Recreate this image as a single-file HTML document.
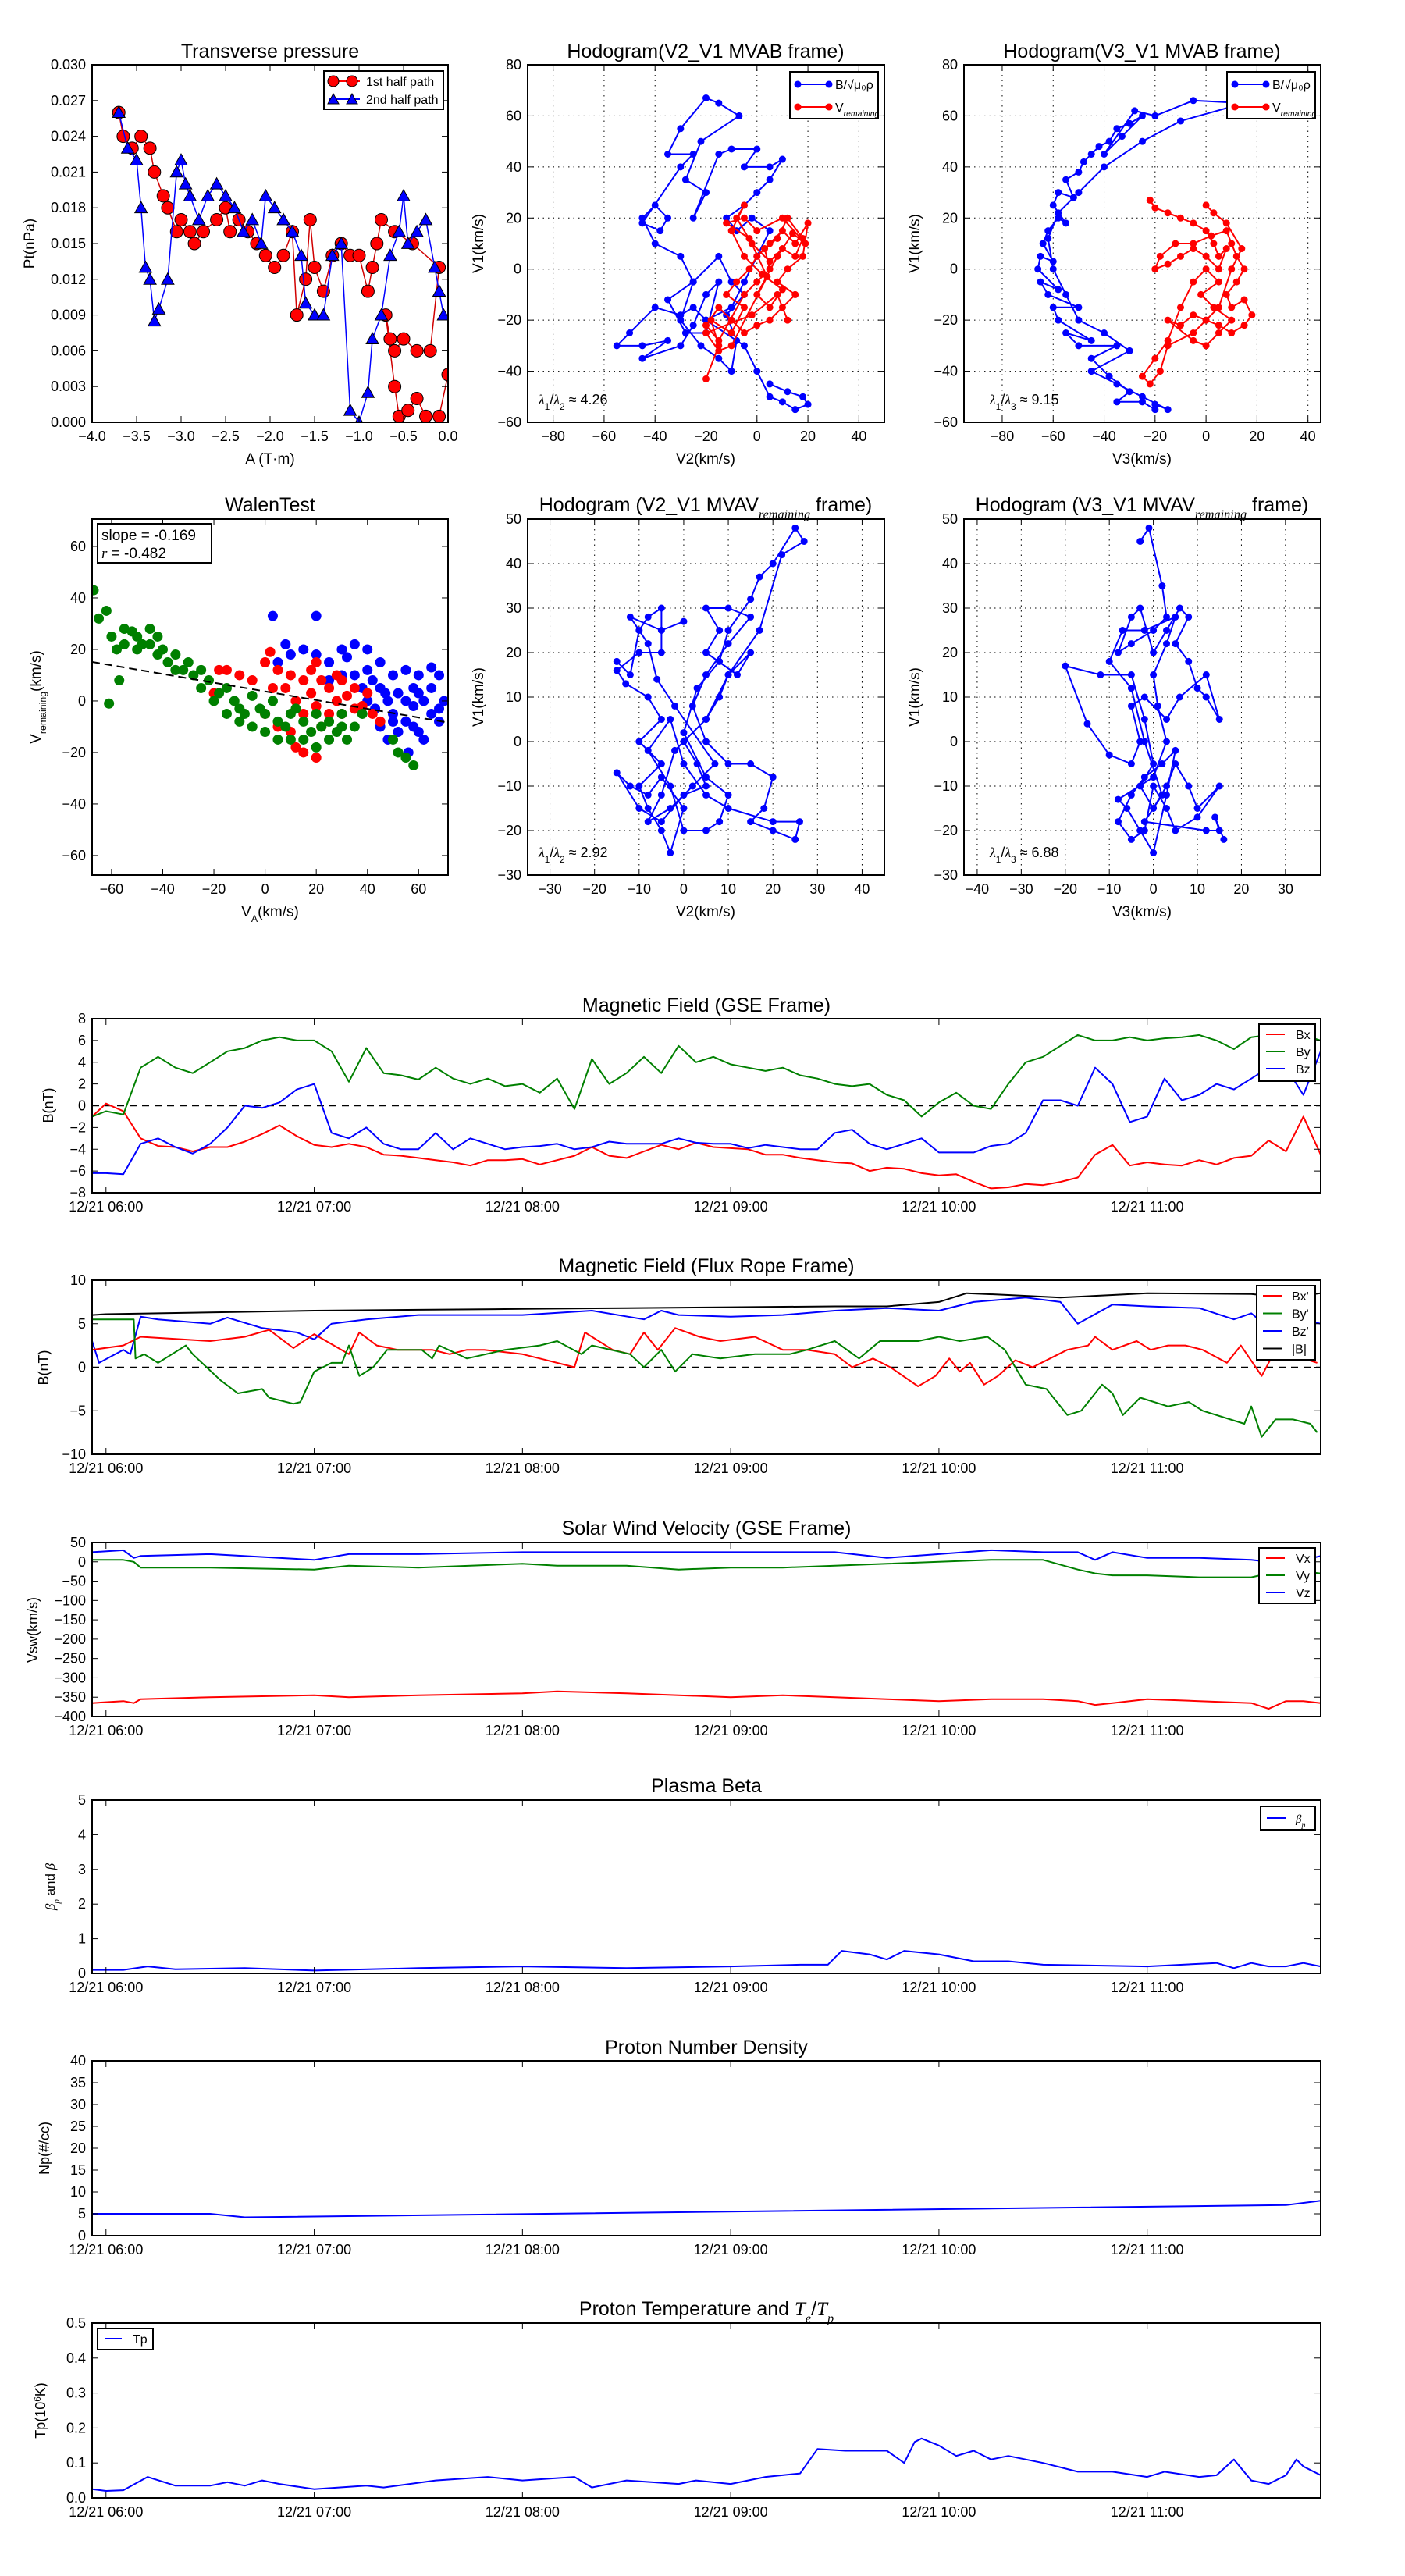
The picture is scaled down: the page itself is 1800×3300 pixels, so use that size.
<!DOCTYPE html>
<html><head><meta charset="utf-8"><title>Flux rope analysis</title>
<style>
html,body{margin:0;padding:0;background:#fff;}
svg{display:block;font-family:"Liberation Sans",sans-serif;}
</style></head>
<body>
<svg id="fig" xmlns="http://www.w3.org/2000/svg" width="1800" height="3300" viewBox="0 0 1800 3300">
<rect x="0" y="0" width="1800" height="3300" fill="#fff"/>
<defs id="defs"></defs>
</svg>
<script>
// ---------- DATA ----------
// Transverse pressure
const tp1A=[-3.7,-3.65,-3.55,-3.45,-3.35,-3.3,-3.2,-3.15,-3.05,-3.0,-2.9,-2.85,-2.75,-2.6,-2.5,-2.45,-2.35,-2.25,-2.15,-2.05,-1.95,-1.85,-1.75,-1.7,-1.6,-1.55,-1.5,-1.4,-1.3,-1.2,-1.1,-1.0,-0.9,-0.85,-0.8,-0.75,-0.6,-0.4,-0.1,-0.2,-0.35,-0.5,-0.6,-0.65,-0.7,-0.6,-0.55,-0.45,-0.35,-0.25,-0.1,0.0];
const tp1P=[0.026,0.024,0.023,0.024,0.023,0.021,0.019,0.018,0.016,0.017,0.016,0.015,0.016,0.017,0.018,0.016,0.017,0.016,0.015,0.014,0.013,0.014,0.016,0.009,0.012,0.017,0.013,0.011,0.014,0.015,0.014,0.014,0.011,0.013,0.015,0.017,0.016,0.015,0.013,0.006,0.006,0.007,0.006,0.007,0.009,0.003,0.0005,0.001,0.002,0.0005,0.0005,0.004];
const tp2A=[-3.7,-3.6,-3.5,-3.45,-3.4,-3.35,-3.3,-3.25,-3.15,-3.05,-3.0,-2.95,-2.9,-2.8,-2.7,-2.6,-2.5,-2.4,-2.3,-2.2,-2.1,-2.05,-1.95,-1.85,-1.75,-1.65,-1.6,-1.5,-1.4,-1.3,-1.2,-1.1,-1.0,-0.9,-0.85,-0.75,-0.65,-0.55,-0.5,-0.45,-0.35,-0.25,-0.15,-0.1,-0.05];
const tp2P=[0.026,0.023,0.022,0.018,0.013,0.012,0.0085,0.0095,0.012,0.021,0.022,0.020,0.019,0.017,0.019,0.020,0.019,0.018,0.016,0.017,0.015,0.019,0.018,0.017,0.016,0.014,0.010,0.009,0.009,0.014,0.015,0.001,0.0,0.0025,0.007,0.009,0.014,0.016,0.019,0.015,0.016,0.017,0.013,0.011,0.009];
// Hodogram MVAB V2-V1
const h1BxV2=[-20,-25,-30,-40,-50,-55,-45,-35,-45,-30,-25,-20,-15,-20,-28,-35,-25,-30,-22,-15,-10,-8,-12,-5,-10,-15,-25,-30,-40,-45,-40,-35,-38,-45,-30,-25,-35,-30,-20,-15,-7,-22,-28,-20,-25,-15,-10,0,-5,5,10,5,0,-5,-12,-8,-2,5,0,-5,-10,-20,-5,0,5,10,15,20,18,12,5];
const h1ByV1=[-20,-15,-18,-15,-25,-30,-30,-28,-35,-30,-22,-10,-5,-25,-25,-12,-5,-20,-30,-35,-40,-28,-18,-10,-5,5,-5,5,10,20,25,20,15,18,40,45,45,55,67,65,60,50,35,30,20,45,47,47,40,40,43,35,30,25,20,15,20,15,5,-5,-15,-20,-30,-40,-50,-52,-55,-53,-50,-48,-45];
const h1VxV2=[-20,-15,-18,-10,-5,-12,-8,-3,0,5,10,15,20,18,12,8,15,10,5,0,-5,-10,-15,-20,-15,-5,0,5,3,8,12,18,15,10,5,-2,-8,-5,-10,-5,2,10,5,0,8,14,19,10,0,-5,-12,-3,4,-10,-15,-20,-2,8,12];
const h1VyV1=[-43,-30,-20,-25,-15,-10,-5,0,5,10,15,10,18,5,0,-5,-10,-15,-20,-22,-25,-20,-15,-22,-28,-10,-5,0,8,12,20,12,5,8,3,10,20,25,15,5,-2,-8,-15,-10,5,14,10,20,15,20,18,12,-3,-30,-32,-25,-18,-10,-20];
// Hodogram MVAB V3-V1
const h2BxV3=[-20,-25,-35,-30,-38,-45,-35,-50,-55,-45,-58,-60,-50,-62,-65,-58,-66,-65,-60,-64,-62,-58,-55,-60,-58,-52,-55,-50,-48,-45,-42,-38,-35,-30,-25,-33,-40,-28,-20,-5,15,-10,-25,-40,-50,-58,-62,-60,-55,-50,-40,-30,-45,-35,-25,-15,-20];
const h2ByV1=[-55,-52,-52,-48,-42,-35,-30,-30,-25,-28,-20,-15,-15,-10,-5,-8,0,5,3,10,15,20,18,25,30,28,35,38,42,45,48,50,55,57,60,52,45,62,60,66,65,58,50,40,30,22,12,0,-10,-20,-25,-32,-40,-45,-50,-55,-53];
const h2VxV3=[-22,-20,-15,-10,-5,0,3,5,8,5,0,-5,-10,-15,-20,-18,-12,-5,2,8,10,12,15,12,8,10,15,18,15,10,5,0,-5,-10,-15,-5,0,5,10,3,-2,5,0,-5,-10,-15,-20,-25,-22,-18,-15,-5,5,10,14,8,3,0];
const h2VyV1=[27,24,22,20,18,15,10,5,8,0,5,8,5,2,0,5,10,10,13,15,10,5,0,-5,-10,-15,-12,-18,-22,-25,-22,-20,-18,-22,-20,-28,-30,-25,-20,-15,-10,-5,0,-5,-15,-28,-35,-42,-45,-40,-30,-25,-15,0,8,18,22,25];
// Hodogram MVAV V2-V1
const h3V2=[-15,-12,-10,-8,-5,-5,-10,-15,-13,-8,-5,-10,-5,-10,-8,-5,-3,0,-5,-8,-12,-15,-10,-5,0,5,3,0,5,8,10,15,12,5,8,5,10,15,10,5,2,5,10,15,20,18,15,20,25,26,20,10,5,0,-3,-8,-3,0,5,8,10,5,0,3,8,10,15,17,20,25,27,22,17,10,5,-2,-5,-8,-3,2,7,-2,-6,-8,-12,-5,0];
const h3V1=[18,15,25,28,30,20,20,16,13,10,5,0,-5,-10,-15,-20,-25,-15,-8,-12,-10,-7,-15,-18,-12,-10,-5,0,5,10,15,20,15,20,25,30,30,28,22,15,8,0,-5,-5,-8,-15,-18,-20,-22,-18,-18,-15,-12,-5,5,-2,-10,-20,-20,-18,-12,-8,2,12,18,25,32,37,40,48,45,42,25,15,5,-2,-12,-18,-15,-10,-5,8,14,22,28,25,27];
// Hodogram MVAV V3-V1
const h4V3=[-3,-1,2,3,0,-5,-8,-5,-3,0,3,6,8,5,8,10,12,15,12,6,3,-2,-5,-3,-5,-10,-15,-20,-12,-5,-2,0,-3,0,3,5,8,10,15,10,5,3,0,-2,-5,-8,-5,-2,2,5,3,0,-3,-6,-8,0,3,1,0,3,5,-2,-7,-10,-5,-2,2,-2,12,15,14,16];
const h4V1=[45,48,35,28,25,22,20,28,30,20,25,30,28,22,18,12,10,5,15,10,5,10,8,0,-5,-3,4,17,15,15,5,-5,-10,-15,-10,-5,-10,-15,-10,-17,-20,-15,-10,-20,-22,-18,-12,-8,-5,-2,-12,-25,-20,-15,-13,-8,0,8,15,22,28,25,25,18,12,0,-12,-18,-20,-20,-17,-22];
// Walen test
const wgVA=[-67,-65,-62,-60,-58,-55,-55,-52,-50,-50,-48,-45,-45,-42,-42,-40,-38,-35,-35,-32,-30,-28,-25,-25,-22,-20,-18,-15,-15,-12,-10,-10,-8,-5,-5,-2,0,0,3,5,5,8,10,10,12,15,15,18,20,20,22,25,25,28,30,30,32,35,38,50,52,55,58,-61,-57];
const wgV=[43,32,35,25,20,28,22,27,25,20,22,28,22,25,18,20,15,18,12,12,15,10,12,5,8,0,3,-5,5,0,-3,-8,-5,-10,2,-3,-5,-12,0,-8,-15,-10,-5,-15,-3,-8,-15,-12,-5,-18,-10,-8,-15,-12,-5,-10,-15,-10,-5,-15,-20,-22,-25,-1,8];
const wrVA=[0,5,8,10,12,15,15,18,18,20,20,22,22,25,25,28,28,30,30,32,35,35,38,40,42,45,0,3,5,10,12,15,20,-10,-15,-5,-20,2,-18];
const wrV=[15,12,5,10,0,8,-5,12,3,15,-2,8,-10,5,-5,10,0,-5,8,2,-3,5,-2,3,-5,-8,-5,5,-10,-12,-18,-20,-22,10,12,8,3,19,12];
const wbVA=[3,20,8,5,10,15,20,25,30,32,35,40,40,42,45,45,48,50,50,52,55,55,58,58,60,60,62,62,65,65,68,68,70,45,48,52,56,40,43,38,35,30,25,55,60,65,68,58,50,47];
const wbV=[33,33,22,15,18,20,18,15,20,17,22,20,12,8,15,5,0,10,-5,3,12,-8,5,-2,10,-12,0,-15,5,-5,10,-3,0,-10,-15,-12,-20,0,-3,5,10,10,8,0,3,13,-8,-10,-8,3];
const walenSlope=-0.169, walenIntercept=3.7, walenR=-0.482;
// Time series (minutes after 06:00)
const gseT=[-4,0,5,10,15,20,25,30,35,40,45,50,55,60,65,70,75,80,85,90,95,100,105,110,115,120,125,130,135,140,145,150,155,160,165,170,175,180,185,190,195,200,205,210,215,220,225,230,235,240,245,250,255,260,265,270,275,280,285,290,295,300,305,310,315,320,325,330,335,340,345,350];
const gseBx=[-1,0.2,-0.5,-3.0,-3.7,-3.8,-4.2,-3.8,-3.8,-3.3,-2.6,-1.8,-2.8,-3.6,-3.8,-3.5,-3.8,-4.5,-4.6,-4.8,-5.0,-5.2,-5.5,-5.0,-5.0,-4.9,-5.4,-5.0,-4.6,-3.8,-4.6,-4.8,-4.2,-3.6,-4.0,-3.4,-3.8,-3.9,-4.0,-4.5,-4.5,-4.8,-5.0,-5.2,-5.3,-6.0,-5.7,-5.8,-6.2,-6.4,-6.3,-7.0,-7.6,-7.5,-7.2,-7.3,-7.0,-6.6,-4.5,-3.6,-5.5,-5.2,-5.4,-5.5,-5.0,-5.4,-4.8,-4.6,-3.2,-4.2,-1.0,-4.5];
const gseBy=[-1,-0.5,-0.8,3.5,4.5,3.5,3.0,4.0,5.0,5.3,6.0,6.3,6.0,6.0,5.0,2.2,5.3,3.0,2.8,2.4,3.5,2.5,2.0,2.5,1.8,2.0,1.2,2.5,-0.3,4.3,2.0,3.0,4.5,3.0,5.5,4.0,4.5,3.8,3.5,3.2,3.5,2.8,2.5,2.0,1.8,2.0,1.0,0.5,-1.0,0.3,1.2,0.0,-0.3,2.0,4.0,4.5,5.5,6.5,6.0,6.0,6.3,6.0,6.2,6.3,6.5,6.0,5.2,6.3,6.5,5.8,6.5,6.0];
const gseBz=[-6.2,-6.2,-6.3,-3.5,-3.0,-3.8,-4.4,-3.5,-2.0,0.0,-0.2,0.3,1.5,2.0,-2.5,-3.0,-2.0,-3.5,-4.0,-4.0,-2.5,-4.0,-3.0,-3.5,-4.0,-3.8,-3.7,-3.5,-4.0,-3.8,-3.3,-3.5,-3.5,-3.5,-3.0,-3.4,-3.5,-3.5,-3.9,-3.6,-3.8,-4.0,-4.0,-2.5,-2.2,-3.5,-4.0,-3.5,-3.0,-4.3,-4.3,-4.3,-3.7,-3.5,-2.5,0.5,0.5,0.0,3.5,2.0,-1.5,-1.0,2.5,0.5,1.0,2.0,1.5,2.5,3.5,3.5,1.0,5.0];
// Flux rope frame
const frBmagT=[-4,0,30,60,90,120,150,180,210,225,240,248,260,275,290,300,330,340,350];
const frBmag=[6.0,6.1,6.3,6.5,6.6,6.7,6.8,6.9,7.0,7.0,7.5,8.5,8.3,8.0,8.3,8.5,8.4,8.0,8.5];
const frBzT=[-4,-2,5,7,10,15,30,35,45,55,60,65,75,90,120,140,155,160,165,180,195,210,225,240,250,265,275,280,290,300,315,325,330,335,340,350];
const frBz=[3,0.5,2,1.5,5.8,5.5,5.0,5.7,4.5,4.0,3.2,5.0,5.5,6.0,6.0,6.5,5.5,6.5,6.0,5.8,6.0,6.5,6.8,6.5,7.5,8.0,7.5,5.0,7.2,7.0,6.8,5.5,6.2,4.5,6.0,5.0];
const frBxT=[-4,5,10,30,40,47,54,60,70,73,78,84,91,94,99,104,109,120,125,135,138,146,151,155,159,164,171,177,187,195,202,210,215,221,226,234,239,243,246,249,253,257,262,267,272,277,283,285,290,297,301,306,311,316,323,327,333,337,349];
const frBx=[2,2.5,3.5,3,3.5,4.3,2.2,3.8,1.5,4.0,2.5,2,2,2,1.5,2,2,1.5,1,0,4,2,1.5,4,2,4.5,3.5,3,3.5,2,2,1.5,0,1,0,-2.2,-1,1,-0.5,0.5,-2,-1,0.8,0,1,2,2.5,3.5,2,3,2,2.5,2.5,2,0.5,2.5,-1,2,0.5];
const frByT=[-4,8,8.5,11,15,19,23,25,29,33,38,45,47,54,56,60,65,68,70,73,77,81,91,94,96,104,115,125,130,137,140,151,155,160,164,169,177,187,197,202,210,217,223,234,240,246,254,259,262,265,271,277,281,287,290,293,298,306,312,316,328,330,333,337,342,347,349];
const frBy=[5.5,5.5,1,1.5,0.5,1.5,2.5,1.5,0,-1.5,-3,-2.5,-3.5,-4.2,-4,-0.5,0.5,0.5,2.5,-1,0,2,2,1,2.5,1,2,2.5,3,1.5,2.5,1.5,0,2,-0.5,1.5,1,1.5,1.5,2,3,1,3,3,3.5,3,3.5,2,0,-2,-2.5,-5.5,-5,-2,-3,-5.5,-3.5,-4.5,-4,-5,-6.5,-4.5,-8,-6,-6,-6.5,-7.5];
// Solar wind velocity
const vT=[-4,5,8,10,30,60,70,90,120,130,150,165,180,195,210,225,240,255,270,280,285,290,300,315,330,335,340,345,350];
const vx=[-365,-360,-365,-355,-350,-345,-350,-345,-340,-335,-340,-345,-350,-345,-350,-355,-360,-355,-355,-360,-370,-365,-355,-360,-365,-380,-360,-360,-365];
const vy=[5,5,0,-15,-15,-20,-10,-15,-5,-10,-10,-20,-15,-15,-10,-5,0,5,5,-20,-30,-35,-35,-40,-40,-30,-25,-25,-30];
const vz=[25,30,10,15,20,5,20,20,25,25,25,25,25,25,25,10,20,30,25,25,5,25,10,10,5,0,-10,5,15];
// Plasma beta
const betaT=[-4,5,12,20,40,60,90,120,150,180,200,208,212,220,225,230,235,240,250,260,270,300,320,325,330,335,340,345,350];
const beta=[0.1,0.1,0.2,0.12,0.15,0.08,0.15,0.2,0.15,0.2,0.25,0.25,0.65,0.55,0.4,0.65,0.6,0.55,0.35,0.35,0.25,0.2,0.3,0.15,0.3,0.2,0.2,0.3,0.2];
// Density
const npT=[-4,30,40,340,350];
const np=[5,5,4.2,7.0,8.0];
// Proton temperature
const tpT=[-4,0,5,12,20,30,35,40,45,50,60,75,80,95,110,120,135,140,150,165,170,180,190,200,205,213,225,230,233,235,240,245,250,255,260,270,280,290,300,305,315,320,325,330,335,340,343,345,350];
const tpv=[0.025,0.02,0.022,0.06,0.035,0.035,0.045,0.035,0.05,0.04,0.025,0.035,0.03,0.05,0.06,0.05,0.06,0.03,0.05,0.04,0.05,0.04,0.06,0.07,0.14,0.135,0.135,0.10,0.16,0.17,0.15,0.12,0.135,0.11,0.12,0.1,0.075,0.075,0.06,0.075,0.06,0.065,0.11,0.05,0.04,0.065,0.11,0.09,0.065];
const timeTicks=[0,60,120,180,240,300];
const timeTickLabels=["12/21 06:00","12/21 07:00","12/21 08:00","12/21 09:00","12/21 10:00","12/21 11:00"];

// ---------- DRAWING ----------
const NS='http://www.w3.org/2000/svg';
const svg=document.getElementById('fig');
const defs=document.getElementById('defs');
let clipId=0;
function mk(tag,attrs,parent){const e=document.createElementNS(NS,tag);for(const k in attrs)e.setAttribute(k,attrs[k]);(parent||svg).appendChild(e);return e;}
function lin(d0,d1,r0,r1){return v=>r0+(v-d0)/(d1-d0)*(r1-r0);}
function fmtNum(v,dec){const s=Math.abs(v).toFixed(dec);return (v<0?'\u2212':'')+s;}

function axes(name,x0,y0,x1,y1,xd,yd,xt,yt,xlab,ylab,grid){
  const g=mk('g',{});
  
  
  const sx=lin(xd[0],xd[1],x0,x1), sy=lin(yd[0],yd[1],y1,y0);
  const cp=mk('clipPath',{id:'c'+(++clipId)},defs);
  mk('rect',{x:x0,y:y0,width:x1-x0,height:y1-y0},cp);
  if(grid){
    xt.forEach(v=>{const gl=mk('line',{x1:sx(v),x2:sx(v),y1:y0,y2:y1,stroke:'#000','stroke-width':1,'stroke-dasharray':'1.5,5'},g);
      
      });
    yt.forEach(v=>{const gl=mk('line',{x1:x0,x2:x1,y1:sy(v),y2:sy(v),stroke:'#000','stroke-width':1,'stroke-dasharray':'1.5,5'},g);
      
      });
  }
  const plot=mk('g',{'clip-path':'url(#c'+clipId+')'},g);
  
  
  const tg=mk('g',{},g);
  
  
  xt.forEach((v,i)=>{
    const X=sx(v);
    mk('line',{x1:X,x2:X,y1:y1,y2:y1-8,stroke:'#000','stroke-width':1},tg);
    mk('line',{x1:X,x2:X,y1:y0,y2:y0+8,stroke:'#000','stroke-width':1},tg);
    const t=mk('text',{x:X,y:y1+24,'text-anchor':'middle','font-size':18},tg);
    t.textContent=xlab(v,i);
    
    
  });
  yt.forEach((v,i)=>{
    const Y=sy(v);
    mk('line',{x1:x0,x2:x0+8,y1:Y,y2:Y,stroke:'#000','stroke-width':1},tg);
    mk('line',{x1:x1,x2:x1-8,y1:Y,y2:Y,stroke:'#000','stroke-width':1},tg);
    const t=mk('text',{x:x0-8,y:Y+6,'text-anchor':'end','font-size':18},tg);
    t.textContent=ylab(v,i);
    
    
  });
  const fr=mk('rect',{x:x0,y:y0,width:x1-x0,height:y1-y0,fill:'none',stroke:'#000','stroke-width':2},g);
  
  
  return {sx,sy,plot,g,x0,y0,x1,y1};
}
function line(ax,xs,ys,color,name,w){
  const d=xs.map((x,i)=>(i?'L':'M')+ax.sx(x).toFixed(1)+','+ax.sy(ys[i]).toFixed(1)).join('');
  const p=mk('path',{d,fill:'none',stroke:color,'stroke-width':w||2,'stroke-linejoin':'round'},ax.plot);
  
  
  return p;
}
function dots(ax,xs,ys,color,r,name,shape){
  const g=mk('g',{},ax.plot);
  
  
  xs.forEach((x,i)=>{
    const X=ax.sx(x),Y=ax.sy(ys[i]);
    if(shape==='tri'){
      mk('polygon',{points:`${X},${Y-r} ${X-r},${Y+r*0.8} ${X+r},${Y+r*0.8}`,fill:color,stroke:'#000','stroke-width':1},g);
    } else {
      mk('circle',{cx:X,cy:Y,r:r,fill:color,stroke:shape==='edge'?'#000':'none','stroke-width':1},g);
    }
  });
}
function text(x,y,str,size,anchor,name,rot){
  const t=mk('text',{x,y,'font-size':size,'text-anchor':anchor||'middle'});
  if(rot) t.setAttribute('transform',`rotate(-90 ${x} ${y})`);
  t.textContent=str;
  
  
  return t;
}
function rich(x,y,parts,size,anchor,name,rot){
  const t=mk('text',{x,y,'font-size':size,'text-anchor':anchor||'middle'});
  if(rot) t.setAttribute('transform',`rotate(-90 ${x} ${y})`);
  parts.forEach(p=>{
    const s=mk('tspan',{},t);
    if(p.sub){s.setAttribute('baseline-shift','sub');s.setAttribute('font-size',size*0.65);}
    if(p.sup){s.setAttribute('baseline-shift','super');s.setAttribute('font-size',size*0.65);}
    if(p.it){s.setAttribute('font-style','italic');s.setAttribute('font-family','Liberation Serif, serif');}
    s.textContent=p.t;
  });
  
  
  return t;
}
function legendBox(x,y,w,h,name){
  const r=mk('rect',{x,y,width:w,height:h,fill:'#fff',stroke:'#000','stroke-width':2});
  
  
}
function legendEntry(x,y,color,marker,parts,size,name){
  const g=mk('g',{});
  
  
  mk('line',{x1:x,x2:x+40,y1:y,y2:y,stroke:color,'stroke-width':2},g);
  if(marker==='dot'){mk('circle',{cx:x,cy:y,r:4.5,fill:color},g);mk('circle',{cx:x+40,cy:y,r:4.5,fill:color},g);}
  if(marker==='big'){mk('circle',{cx:x+6,cy:y,r:7,fill:color,stroke:'#000'},g);mk('circle',{cx:x+30,cy:y,r:7,fill:color,stroke:'#000'},g);}
  if(marker==='tri'){[x+6,x+30].forEach(c=>mk('polygon',{points:`${c},${y-7} ${c-7},${y+6} ${c+7},${y+6}`,fill:color,stroke:'#000'},g));}
  const t=mk('text',{x:x+48,y:y+6,'font-size':size},g);
  parts.forEach(p=>{const s=mk('tspan',{},t);if(p.sub){s.setAttribute('baseline-shift','sub');s.setAttribute('font-size',size*0.65);s.setAttribute('font-style','italic');}s.textContent=p.t;});
}
const rng=(a,b,s)=>{const o=[];for(let v=a;v<=b+1e-9;v+=s)o.push(+v.toFixed(6));return o;};

// ---- Row 1 panel 1: transverse pressure
{
  const ax=axes('transverse-pressure-chart',118,83,574,541,[-4,0],[0,0.030],rng(-4,0,0.5),rng(0,0.030,0.003),v=>fmtNum(v,1),v=>v.toFixed(3),false);
  line(ax,tp1A,tp1P,'#d00000','first-half-path-line',1.5);
  dots(ax,tp1A,tp1P,'#ff0000',8,'first-half-path-markers','edge');
  line(ax,tp2A,tp2P,'#0000ff','second-half-path-line',1.5);
  dots(ax,tp2A,tp2P,'#0000ff',8,'second-half-path-markers','tri');
  text(346,74,'Transverse pressure',25,'middle','transverse-pressure-title');
  text(346,594,'A (T\u00b7m)',19,'middle','x-axis-title');
  text(44,312,'Pt(nPa)',19,'middle','y-axis-title',true);
  legendBox(415,91,153,49,'transverse-legend');
  legendEntry(421,104,'#ff0000','big',[{t:'1st half path'}],16,'legend-entry-1st-half');
  legendEntry(421,127,'#0000ff','tri',[{t:'2nd half path'}],16,'legend-entry-2nd-half');
}
// ---- Row 1 panel 2: hodogram MVAB V2-V1
function hodoLegend(x,pref){
  legendBox(x,92,113,60,pref+'-legend');
  legendEntry(x+10,108,'#0000ff','dot',[{t:'B/\u221a\u03bc\u2080\u03c1'}],16,'legend-entry-b');
  legendEntry(x+10,137,'#ff0000','dot',[{t:'V'},{t:'remaining',sub:true}],16,'legend-entry-v');
}
{
  const ax=axes('hodogram-mvab-v2-v1',676,83,1133,541,[-90,50],[-60,80],rng(-80,40,20),rng(-60,80,20),v=>fmtNum(v,0),v=>fmtNum(v,0),true);
  line(ax,h1BxV2,h1ByV1,'#0000ff','b-trajectory-line',2);
  dots(ax,h1BxV2,h1ByV1,'#0000ff',4.5,'b-trajectory-points');
  line(ax,h1VxV2,h1VyV1,'#ff0000','v-trajectory-line',2);
  dots(ax,h1VxV2,h1VyV1,'#ff0000',4.5,'v-trajectory-points');
  text(904,74,'Hodogram(V2_V1 MVAB frame)',25,'middle','hodogram-mvab-v2-title');
  text(904,594,'V2(km/s)',19,'middle','x-axis-title');
  text(619,312,'V1(km/s)',19,'middle','y-axis-title',true);
  hodoLegend(1012,'hodogram-mvab-v2');
  rich(690,518,[{t:'\u03bb',it:1},{t:'1',sub:1},{t:'/'},{t:'\u03bb',it:1},{t:'2',sub:1},{t:' \u2248 4.26'}],18,'start','eigen-ratio-label');
}
// ---- Row 1 panel 3: hodogram MVAB V3-V1
{
  const ax=axes('hodogram-mvab-v3-v1',1235,83,1692,541,[-95,45],[-60,80],rng(-80,40,20),rng(-60,80,20),v=>fmtNum(v,0),v=>fmtNum(v,0),true);
  line(ax,h2BxV3,h2ByV1,'#0000ff','b-trajectory-line',2);
  dots(ax,h2BxV3,h2ByV1,'#0000ff',4.5,'b-trajectory-points');
  line(ax,h2VxV3,h2VyV1,'#ff0000','v-trajectory-line',2);
  dots(ax,h2VxV3,h2VyV1,'#ff0000',4.5,'v-trajectory-points');
  text(1463,74,'Hodogram(V3_V1 MVAB frame)',25,'middle','hodogram-mvab-v3-title');
  text(1463,594,'V3(km/s)',19,'middle','x-axis-title');
  text(1178,312,'V1(km/s)',19,'middle','y-axis-title',true);
  hodoLegend(1572,'hodogram-mvab-v3');
  rich(1268,518,[{t:'\u03bb',it:1},{t:'1',sub:1},{t:'/'},{t:'\u03bb',it:1},{t:'3',sub:1},{t:' \u2248 9.15'}],18,'start','eigen-ratio-label');
}
// ---- Row 2 panel 1: Walen test
{
  const ax=axes('walen-test-chart',118,665,574,1121,[-67.6,71.5],[-67.6,70.6],rng(-60,60,20),rng(-60,60,20),v=>fmtNum(v,0),v=>fmtNum(v,0),false);
  dots(ax,wbVA,wbV,'#0000ff',6.5,'walen-blue-points');
  dots(ax,wrVA,wrV,'#ff0000',6.5,'walen-red-points');
  dots(ax,wgVA,wgV,'#008000',6.5,'walen-green-points');
  const fx=[-67.6,71.5];
  line(ax,fx,fx.map(x=>walenSlope*x+walenIntercept),'#000','walen-fit-line',2).setAttribute('stroke-dasharray','10,6');
  text(346,655,'WalenTest',25,'middle','walen-test-title');
  rich(346,1174,[{t:'V'},{t:'A',sub:1},{t:'(km/s)'}],19,'middle','x-axis-title');
  rich(52,893,[{t:'V'},{t:'remaining',sub:1},{t:'(km/s)'}],19,'middle','y-axis-title',true);
  legendBox(125,671,146,50,'walen-stats-box');
  text(130,692,'slope = '+walenSlope.toFixed(3).replace('-','-'),19,'start','slope-label');
  rich(130,715,[{t:'r',it:1},{t:' = '+walenR.toFixed(3)}],19,'start','r-label');
}
// ---- Row 2 panel 2
{
  const ax=axes('hodogram-mvav-v2-v1',676,665,1133,1121,[-35,45],[-30,50],rng(-30,40,10),rng(-30,50,10),v=>fmtNum(v,0),v=>fmtNum(v,0),true);
  line(ax,h3V2,h3V1,'#0000ff','v-trajectory-line',2);
  dots(ax,h3V2,h3V1,'#0000ff',4.5,'v-trajectory-points');
  rich(904,655,[{t:'Hodogram (V2_V1 MVAV'},{t:'remaining',sub:1,it:1},{t:' frame)'}],25,'middle','hodogram-mvav-v2-title');
  text(904,1174,'V2(km/s)',19,'middle','x-axis-title');
  text(619,893,'V1(km/s)',19,'middle','y-axis-title',true);
  rich(690,1098,[{t:'\u03bb',it:1},{t:'1',sub:1},{t:'/'},{t:'\u03bb',it:1},{t:'2',sub:1},{t:' \u2248 2.92'}],18,'start','eigen-ratio-label');
}
// ---- Row 2 panel 3
{
  const ax=axes('hodogram-mvav-v3-v1',1235,665,1692,1121,[-43,38],[-30,50],rng(-40,30,10),rng(-30,50,10),v=>fmtNum(v,0),v=>fmtNum(v,0),true);
  line(ax,h4V3,h4V1,'#0000ff','v-trajectory-line',2);
  dots(ax,h4V3,h4V1,'#0000ff',4.5,'v-trajectory-points');
  rich(1463,655,[{t:'Hodogram (V3_V1 MVAV'},{t:'remaining',sub:1,it:1},{t:' frame)'}],25,'middle','hodogram-mvav-v3-title');
  text(1463,1174,'V3(km/s)',19,'middle','x-axis-title');
  text(1178,893,'V1(km/s)',19,'middle','y-axis-title',true);
  rich(1268,1098,[{t:'\u03bb',it:1},{t:'1',sub:1},{t:'/'},{t:'\u03bb',it:1},{t:'3',sub:1},{t:' \u2248 6.88'}],18,'start','eigen-ratio-label');
}
// ---- Time series
function tsAxes(name,y0,y1,yd,yt,dec){
  return axes(name,118,y0,1692,y1,[-4,350],yd,timeTicks,yt,(v,i)=>timeTickLabels[i],v=>fmtNum(v,dec),false);
}
function zeroLine(ax){const l=line(ax,[-4,350],[0,0],'#000','zero-reference-line',1.5);l.setAttribute('stroke-dasharray','9,7');}
{
  const ax=tsAxes('magnetic-field-gse-chart',1305,1528,[-8,8],rng(-8,8,2),0);
  zeroLine(ax);
  line(ax,gseT,gseBx,'#ff0000','bx-line');
  line(ax,gseT,gseBy,'#008000','by-line');
  line(ax,gseT,gseBz,'#0000ff','bz-line');
  text(905,1296,'Magnetic Field (GSE Frame)',25,'middle','gse-title');
  text(68,1416,'B(nT)',18,'middle','y-axis-title',true);
  legendBox(1613,1312,72,73,'gse-legend');
  [['Bx','#ff0000'],['By','#008000'],['Bz','#0000ff']].forEach((e,i)=>{
    const g=mk('g',{});
    
    
    mk('line',{x1:1622,x2:1646,y1:1325+i*22,y2:1325+i*22,stroke:e[1],'stroke-width':2},g);
    const t=mk('text',{x:1660,y:1331+i*22,'font-size':16},g);t.textContent=e[0];
  });
}
{
  const ax=tsAxes('magnetic-field-flux-rope-chart',1640,1863,[-10,10],rng(-10,10,5),0);
  zeroLine(ax);
  line(ax,frBmagT,frBmag,'#000','bmag-line');
  line(ax,frBzT,frBz,'#0000ff','bz-prime-line');
  line(ax,frBxT,frBx,'#ff0000','bx-prime-line');
  line(ax,frByT,frBy,'#008000','by-prime-line');
  text(905,1630,'Magnetic Field (Flux Rope Frame)',25,'middle','flux-rope-title');
  text(62,1752,'B(nT)',18,'middle','y-axis-title',true);
  legendBox(1610,1647,75,95,'flux-rope-legend');
  [["Bx'",'#ff0000'],["By'",'#008000'],["Bz'",'#0000ff'],['|B|','#000']].forEach((e,i)=>{
    const g=mk('g',{});
    
    
    mk('line',{x1:1618,x2:1642,y1:1660+i*22.5,y2:1660+i*22.5,stroke:e[1],'stroke-width':2},g);
    const t=mk('text',{x:1655,y:1666+i*22.5,'font-size':16},g);t.textContent=e[0];
  });
}
{
  const ax=tsAxes('solar-wind-velocity-chart',1976,2199,[-400,50],rng(-400,50,50),0);
  line(ax,vT,vx,'#ff0000','vx-line');
  line(ax,vT,vy,'#008000','vy-line');
  line(ax,vT,vz,'#0000ff','vz-line');
  text(905,1966,'Solar Wind Velocity (GSE Frame)',25,'middle','velocity-title');
  text(48,2088,'Vsw(km/s)',18,'middle','y-axis-title',true);
  legendBox(1613,1983,72,71,'velocity-legend');
  [['Vx','#ff0000'],['Vy','#008000'],['Vz','#0000ff']].forEach((e,i)=>{
    const g=mk('g',{});
    
    
    mk('line',{x1:1622,x2:1646,y1:1996+i*22,y2:1996+i*22,stroke:e[1],'stroke-width':2},g);
    const t=mk('text',{x:1660,y:2002+i*22,'font-size':16},g);t.textContent=e[0];
  });
}
{
  const ax=tsAxes('plasma-beta-chart',2306,2528,[0,5],rng(0,5,1),0);
  line(ax,betaT,beta,'#0000ff','beta-line');
  text(905,2296,'Plasma Beta',25,'middle','plasma-beta-title');
  rich(70,2417,[{t:'\u03b2',it:1},{t:'p',sub:1,it:1},{t:' and '},{t:'\u03b2',it:1}],17,'middle','y-axis-title',true);
  legendBox(1615,2314,70,30,'beta-legend');
  mk('line',{x1:1623,x2:1647,y1:2329,y2:2329,stroke:'#0000ff','stroke-width':2});
  rich(1660,2335,[{t:'\u03b2',it:1},{t:'p',sub:1,it:1}],15,'start','legend-entry-beta');
}
{
  const ax=tsAxes('proton-density-chart',2640,2864,[0,40],rng(0,40,5),0);
  line(ax,npT,np,'#0000ff','density-line');
  text(905,2631,'Proton Number Density',25,'middle','density-title');
  text(63,2752,'Np(#/cc)',18,'middle','y-axis-title',true);
}
{
  const ax=tsAxes('proton-temperature-chart',2976,3200,[0,0.5],rng(0,0.5,0.1),1);
  line(ax,tpT,tpv,'#0000ff','temperature-line');
  rich(905,2966,[{t:'Proton Temperature and '},{t:'T',it:1},{t:'e',sub:1,it:1},{t:'/'},{t:'T',it:1},{t:'p',sub:1,it:1}],25,'middle','temperature-title');
  rich(58,3088,[{t:'Tp(10'},{t:'6',sup:1},{t:'K)'}],18,'middle','y-axis-title',true);
  legendBox(125,2983,71,27,'temperature-legend');
  mk('line',{x1:134,x2:156,y1:2996,y2:2996,stroke:'#0000ff','stroke-width':2});
  text(170,3002,'Tp',16,'start','legend-entry-tp');
}
</script>
</body></html>
